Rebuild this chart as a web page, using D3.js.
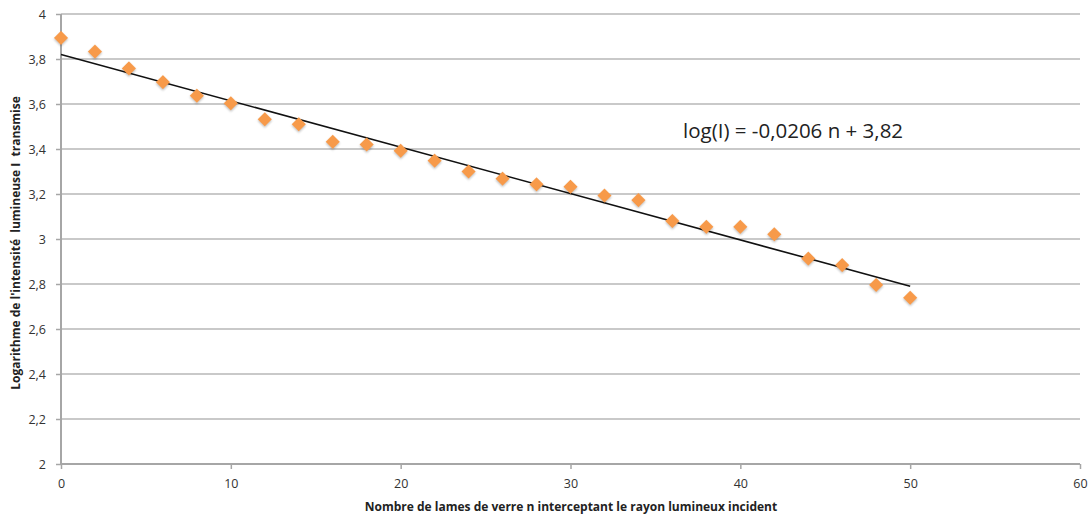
<!DOCTYPE html>
<html>
<head>
<meta charset="utf-8">
<script src="https://cdn.jsdelivr.net/npm/d3@7"></script>
<style>
	body { margin: 0; background: #fff; }
	text { font-family: "Open Sans", "Liberation Sans", sans-serif; }
</style>
</head>
<body>
<svg id="chart" width="1089" height="519"></svg>
<script>
// nombre de lames n
var lames = [0, 2, 4, 6, 8, 10, 12, 14, 16, 18, 20, 22, 24, 26, 28, 30, 32, 34, 36, 38, 40, 42, 44, 46, 48, 50];
// log(I) mesure
var logI = [3.894, 3.833, 3.758, 3.697, 3.637, 3.603, 3.532, 3.510, 3.432, 3.420, 3.392, 3.348, 3.300, 3.268, 3.243, 3.232, 3.193, 3.173, 3.080, 3.054, 3.054, 3.021, 2.913, 2.884, 2.796, 2.739];
// droite de regression
var pente = -0.0206;
var origine = 3.82;
var xTicks = [0, 10, 20, 30, 40, 50, 60];
var yTicks = [2, 2.2, 2.4, 2.6, 2.8, 3, 3.2, 3.4, 3.6, 3.8, 4];

var svg = d3.select("#chart");
var mLeft = 61, mRight = 1080, mTop = 14, mBottom = 464;

var x = d3.scaleLinear().domain([0, 60]).range([mLeft, mRight]);
var y = d3.scaleLinear().domain([2, 4]).range([mBottom, mTop]);

var fmt = function(d) { return String(+d.toFixed(1)).replace(".", ","); };

// grille horizontale
svg.append("g").selectAll("line")
	.data(yTicks.slice(1))
	.enter().append("line")
	.attr("x1", mLeft)
	.attr("x2", mRight)
	.attr("y1", function(d) { return y(d); })
	.attr("y2", function(d) { return y(d); })
	.attr("stroke", "#c9c9c9")
	.attr("stroke-width", 2);

var yAxis = svg.append("g")
	.attr("transform", "translate(" + mLeft + ",0)")
	.call(d3.axisLeft(y).tickValues(yTicks).tickSize(5).tickPadding(10).tickFormat(fmt));

var xAxis = svg.append("g")
	.attr("transform", "translate(0," + mBottom + ")")
	.call(d3.axisBottom(x).tickValues(xTicks).tickSize(5).tickPadding(10).tickFormat(d3.format("d")));

[yAxis, xAxis].forEach(function(a) {
	a.select(".domain").attr("stroke", "#a6a6a6").attr("stroke-width", 2);
	a.selectAll(".tick line").attr("stroke", "#a6a6a6").attr("stroke-width", 1.5);
	a.selectAll(".tick text").attr("fill", "#333").style("font-size", "12.5px");
});
yAxis.select(".domain").attr("d", "M0," + mBottom + "V" + mTop);
xAxis.select(".domain").attr("d", "M" + mLeft + ",0H" + mRight);

// droite de tendance
var tendance = [0, 50];
svg.append("line")
	.attr("x1", x(tendance[0]))
	.attr("y1", y(pente * tendance[0] + origine))
	.attr("x2", x(tendance[1]))
	.attr("y2", y(pente * tendance[1] + origine))
	.attr("stroke", "#111")
	.attr("stroke-width", 1.6);

// points
var diamond = d3.symbol().type(d3.symbolSquare).size(100);
svg.append("g").selectAll("path")
	.data(lames)
	.enter().append("path")
	.attr("d", diamond)
	.attr("transform", function(d, i) { return "translate(" + x(d) + "," + y(logI[i]) + ") rotate(45)"; })
	.attr("fill", "#f79a4a")
	.style("filter", "drop-shadow(1px 1px 1px rgba(0,0,0,0.25))");

// equation
svg.append("text")
	.attr("x", 683)
	.attr("y", 138)
	.style("font-size", "20.5px")
	.attr("fill", "#222")
	.text("log(I) = -0,0206 n + 3,82");

// titres des axes
svg.append("text")
	.attr("x", 571)
	.attr("y", 511)
	.attr("text-anchor", "middle")
	.style("font-size", "12px")
	.style("font-weight", "bold")
	.attr("fill", "#222")
	.text("Nombre de lames de verre n interceptant le rayon lumineux incident");

svg.append("text")
	.attr("transform", "translate(20,243) rotate(-90)")
	.attr("text-anchor", "middle")
	.style("font-size", "12px")
	.style("font-weight", "bold")
	.style("white-space", "pre")
	.attr("fill", "#222")
	.text("Logarithme de l'intensité  lumineuse I  transmise");
</script>
</body>
</html>
